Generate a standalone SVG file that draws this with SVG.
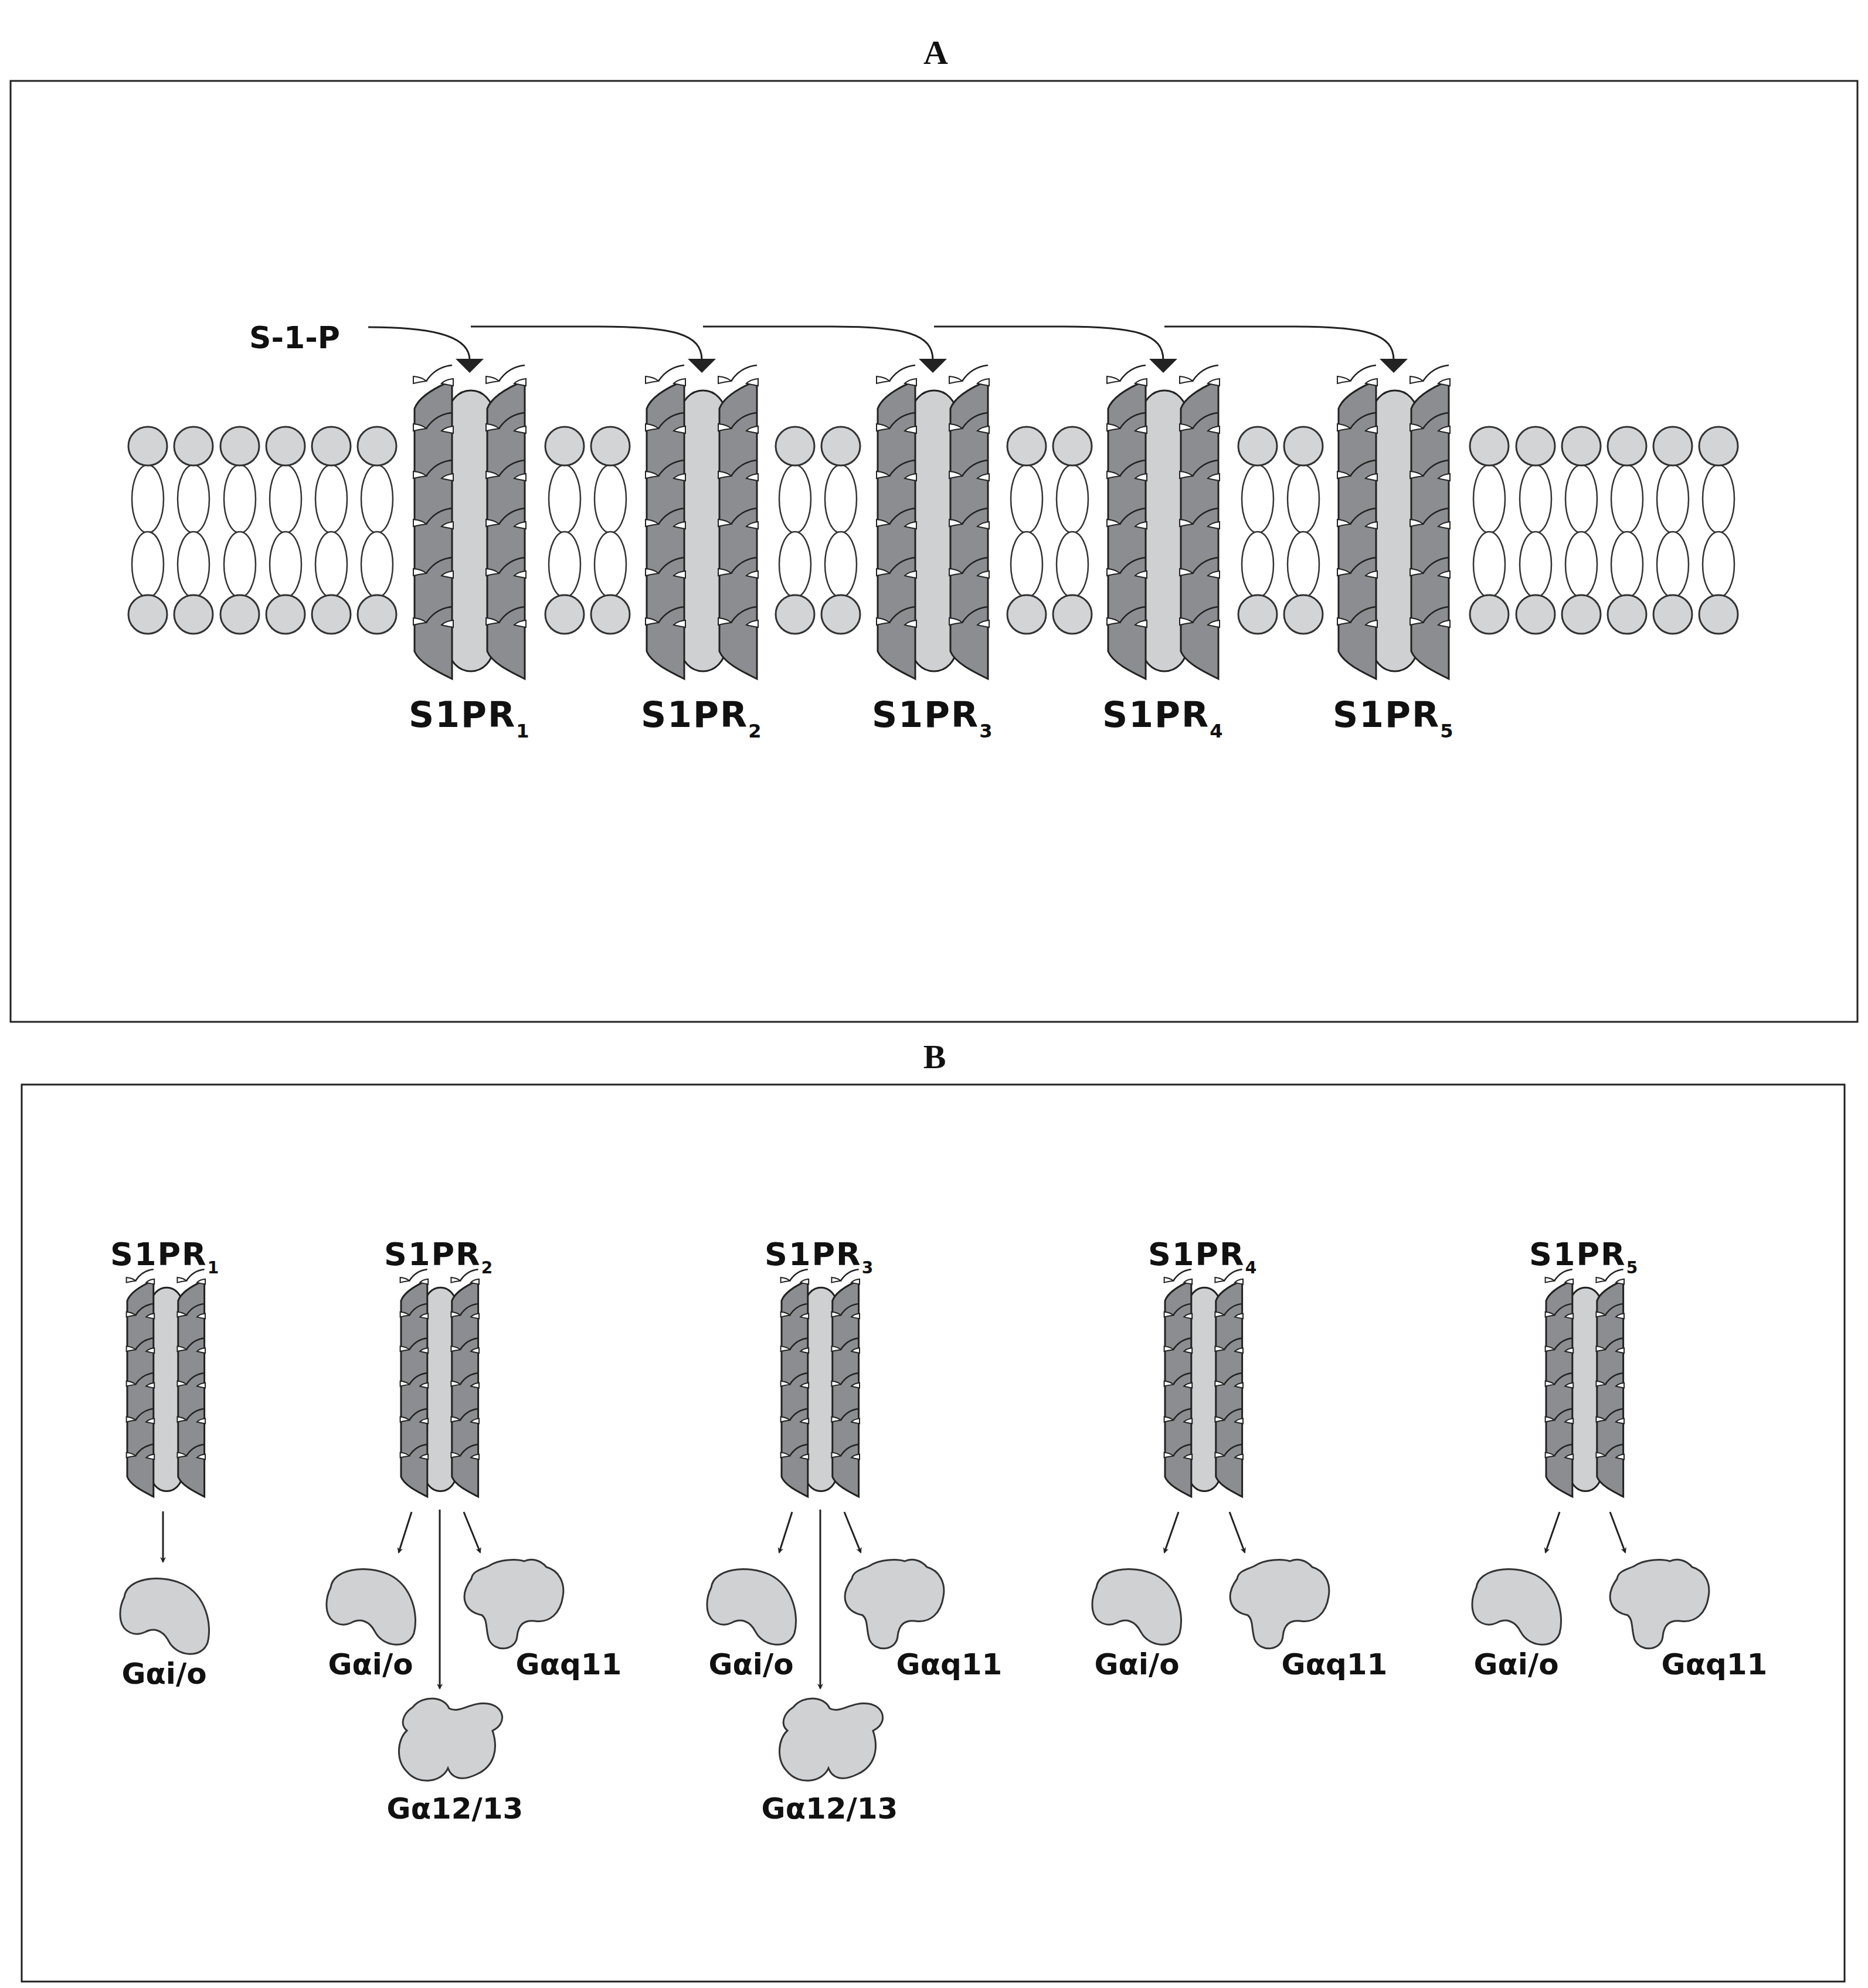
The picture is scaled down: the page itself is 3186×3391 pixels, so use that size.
<svg xmlns="http://www.w3.org/2000/svg" xmlns:xlink="http://www.w3.org/1999/xlink" width="3186" height="3391" viewBox="0 0 3186 3391">
<style>
.box{fill:none;stroke:#222;stroke-width:3}
.ttl{font-family:"Liberation Serif",serif;font-weight:bold;font-size:58px;fill:#111}
.lbl{font-family:"DejaVu Sans",sans-serif;font-weight:bold;fill:#111}
.head{fill:#d3d4d6;stroke:#333;stroke-width:3}
.tail{fill:#fff;stroke:#333;stroke-width:2.5}
.col{fill:#8c8d90;stroke:#222;stroke-width:3;vector-effect:non-scaling-stroke}
.core{fill:#cfd0d2;stroke:#222;stroke-width:3;vector-effect:non-scaling-stroke}
.slit{fill:#fff;stroke:#222;stroke-width:2;vector-effect:non-scaling-stroke}
.seam{fill:none;stroke:#222;stroke-width:2.5;vector-effect:non-scaling-stroke}
.prot{fill:#d0d1d3;stroke:#333;stroke-width:3}
.ln{fill:none;stroke:#222;stroke-width:3}
.ah{fill:#222}
</style>
<defs>
<marker id="arr" markerWidth="10" markerHeight="10" refX="8" refY="5" orient="auto" markerUnits="userSpaceOnUse" viewBox="0 0 10 10">
<path d="M0,0 L10,5 L0,10 L3,5 Z" fill="#222"/>
</marker>
<g id="colshape">
<path class="col" d="M64,0 L64,509 C40,497 8,482 0,462 L0,48 C8,26 40,10 64,0 Z"/>
<g id="notch">
<path class="slit" d="M-2,-7 C8,-6 16,-3 20,1 C12,2 6,3 -2,5 Z"/>
<path class="seam" d="M20,1 C30,-14 44,-24 64,-26"/>
<path class="slit" d="M66,-3 C56,-2 50,1 46,5 C54,7 60,8 66,9 Z"/>
</g>
<use xlink:href="#notch" y="81"/>
<use xlink:href="#notch" y="162"/>
<use xlink:href="#notch" y="244"/>
<use xlink:href="#notch" y="328"/>
<use xlink:href="#notch" y="412"/>
</g>
<g id="rec">
<rect class="core" x="58" y="17" width="76" height="479" rx="38" ry="40"/>
<use xlink:href="#colshape" x="0"/>
<use xlink:href="#colshape" x="124"/>
</g>
<g id="lipid">
<ellipse class="tail" cx="0" cy="851" rx="27" ry="58"/>
<ellipse class="tail" cx="0" cy="963" rx="27" ry="56"/>
<circle class="head" cx="0" cy="761" r="33"/>
<circle class="head" cx="0" cy="1048" r="33"/>
</g>
<path id="gio" class="prot" d="M10,40 C14,8 70,0 110,18 C150,38 160,88 152,118 C142,146 100,142 86,116 C76,96 60,92 45,100 C28,108 8,100 4,80 C1,64 4,52 10,40 Z"/>
<path id="gq" class="prot" d="M22,42 C24,28 40,26 52,20 C70,8 100,8 112,12 C124,6 140,10 150,22 C172,28 182,50 178,72 C174,100 156,118 130,114 C112,112 102,120 100,140 C98,165 62,168 52,146 C46,128 50,112 40,104 C10,98 0,72 22,42 Z"/>
<path id="g12" class="prot" d="M30,22 C48,0 84,4 92,24 C110,34 128,12 158,16 C186,20 192,50 166,62 C176,92 170,122 140,136 C112,150 96,142 90,126 C80,150 40,156 20,132 C0,112 4,76 20,62 C8,52 12,34 30,22 Z"/>
</defs>

<text class="ttl" x="1596" y="109" text-anchor="middle">A</text>
<rect class="box" x="18" y="138" width="3150" height="1605"/>
<text class="ttl" x="1594" y="1822" text-anchor="middle">B</text>
<rect class="box" x="37" y="1850" width="3109" height="1530"/>

<g id="membrane">
<use xlink:href="#lipid" x="252"/><use xlink:href="#lipid" x="330"/><use xlink:href="#lipid" x="409"/><use xlink:href="#lipid" x="487"/><use xlink:href="#lipid" x="565"/><use xlink:href="#lipid" x="643"/>
<use xlink:href="#lipid" x="963"/><use xlink:href="#lipid" x="1041"/>
<use xlink:href="#lipid" x="1356"/><use xlink:href="#lipid" x="1434"/>
<use xlink:href="#lipid" x="1751"/><use xlink:href="#lipid" x="1829"/>
<use xlink:href="#lipid" x="2145"/><use xlink:href="#lipid" x="2223"/>
<use xlink:href="#lipid" x="2540"/><use xlink:href="#lipid" x="2619"/><use xlink:href="#lipid" x="2697"/><use xlink:href="#lipid" x="2775"/><use xlink:href="#lipid" x="2853"/><use xlink:href="#lipid" x="2931"/>
</g>

<g id="A-receptors">
<g id="A-S1PR1"><use xlink:href="#rec" x="707" y="649"/><text class="lbl" font-size="60" x="697" y="1240" letter-spacing="2">S1PR<tspan font-size="32" dy="18">1</tspan></text></g>
<g id="A-S1PR2"><use xlink:href="#rec" x="1103" y="649"/><text class="lbl" font-size="60" x="1093" y="1240" letter-spacing="2">S1PR<tspan font-size="32" dy="18">2</tspan></text></g>
<g id="A-S1PR3"><use xlink:href="#rec" x="1497" y="649"/><text class="lbl" font-size="60" x="1487" y="1240" letter-spacing="2">S1PR<tspan font-size="32" dy="18">3</tspan></text></g>
<g id="A-S1PR4"><use xlink:href="#rec" x="1890" y="649"/><text class="lbl" font-size="60" x="1880" y="1240" letter-spacing="2">S1PR<tspan font-size="32" dy="18">4</tspan></text></g>
<g id="A-S1PR5"><use xlink:href="#rec" x="2283" y="649"/><text class="lbl" font-size="60" x="2273" y="1240" letter-spacing="2">S1PR<tspan font-size="32" dy="18">5</tspan></text></g>
</g>
<g id="S1P"><text class="lbl" font-size="52" x="425" y="594">S-1-P</text></g>

<g id="A-connectors">
<path class="ln" d="M628,558 C720,558 801,568 801,614"/>
<path class="ln" d="M803,557 L1020,557 C1150,557 1197,570 1197,614"/>
<path class="ln" d="M1199,557 L1420,557 C1545,557 1591,570 1591,614"/>
<path class="ln" d="M1593,557 L1815,557 C1938,557 1984,570 1984,614"/>
<path class="ln" d="M1986,557 L2210,557 C2331,557 2377,570 2377,614"/>
<polygon class="ah" points="777,612 825,612 801,636"/>
<polygon class="ah" points="1173,612 1221,612 1197,636"/>
<polygon class="ah" points="1567,612 1615,612 1591,636"/>
<polygon class="ah" points="1960,612 2008,612 1984,636"/>
<polygon class="ah" points="2353,612 2401,612 2377,636"/>
</g>

<g id="B-receptors">
<g id="B-S1PR1"><use xlink:href="#rec" transform="translate(217,2184) scale(0.7,0.725)"/><text class="lbl" font-size="54" x="188" y="2158" letter-spacing="2">S1PR<tspan font-size="28" dy="14">1</tspan></text></g>
<g id="B-S1PR2"><use xlink:href="#rec" transform="translate(684,2184) scale(0.7,0.725)"/><text class="lbl" font-size="54" x="655" y="2158" letter-spacing="2">S1PR<tspan font-size="28" dy="14">2</tspan></text></g>
<g id="B-S1PR3"><use xlink:href="#rec" transform="translate(1333,2184) scale(0.7,0.725)"/><text class="lbl" font-size="54" x="1304" y="2158" letter-spacing="2">S1PR<tspan font-size="28" dy="14">3</tspan></text></g>
<g id="B-S1PR4"><use xlink:href="#rec" transform="translate(1987,2184) scale(0.7,0.725)"/><text class="lbl" font-size="54" x="1958" y="2158" letter-spacing="2">S1PR<tspan font-size="28" dy="14">4</tspan></text></g>
<g id="B-S1PR5"><use xlink:href="#rec" transform="translate(2637,2184) scale(0.7,0.725)"/><text class="lbl" font-size="54" x="2608" y="2158" letter-spacing="2">S1PR<tspan font-size="28" dy="14">5</tspan></text></g>
</g>

<g id="G-proteins">
<g id="B1-gio"><use xlink:href="#gio" x="202" y="2684"/><text class="lbl" font-size="50" x="280" y="2872" text-anchor="middle">Gαi/o</text></g>
<g id="B2-gio"><use xlink:href="#gio" x="554" y="2668"/><text class="lbl" font-size="50" x="632" y="2856" text-anchor="middle">Gαi/o</text></g>
<g id="B2-gq"><use xlink:href="#gq" x="782" y="2651"/><text class="lbl" font-size="50" x="970" y="2856" text-anchor="middle">Gαq11</text></g>
<g id="B2-g12"><use xlink:href="#g12" x="674" y="2890"/><text class="lbl" font-size="50" x="776" y="3102" text-anchor="middle">Gα12/13</text></g>
<g id="B3-gio"><use xlink:href="#gio" x="1203" y="2668"/><text class="lbl" font-size="50" x="1281" y="2856" text-anchor="middle">Gαi/o</text></g>
<g id="B3-gq"><use xlink:href="#gq" x="1431" y="2651"/><text class="lbl" font-size="50" x="1619" y="2856" text-anchor="middle">Gαq11</text></g>
<g id="B3-g12"><use xlink:href="#g12" x="1323" y="2890"/><text class="lbl" font-size="50" x="1415" y="3102" text-anchor="middle">Gα12/13</text></g>
<g id="B4-gio"><use xlink:href="#gio" x="1860" y="2668"/><text class="lbl" font-size="50" x="1939" y="2856" text-anchor="middle">Gαi/o</text></g>
<g id="B4-gq"><use xlink:href="#gq" x="2088" y="2651"/><text class="lbl" font-size="50" x="2276" y="2856" text-anchor="middle">Gαq11</text></g>
<g id="B5-gio"><use xlink:href="#gio" x="2508" y="2668"/><text class="lbl" font-size="50" x="2586" y="2856" text-anchor="middle">Gαi/o</text></g>
<g id="B5-gq"><use xlink:href="#gq" x="2736" y="2651"/><text class="lbl" font-size="50" x="2924" y="2856" text-anchor="middle">Gαq11</text></g>
</g>

<g id="B-connectors">
<path class="ln" marker-end="url(#arr)" d="M278,2578 L278,2664"/>
<path class="ln" marker-end="url(#arr)" d="M702,2579 L680,2648"/>
<path class="ln" marker-end="url(#arr)" d="M750,2575 L750,2880"/>
<path class="ln" marker-end="url(#arr)" d="M791,2579 L819,2648"/>
<path class="ln" marker-end="url(#arr)" d="M1351,2579 L1329,2648"/>
<path class="ln" marker-end="url(#arr)" d="M1399,2575 L1399,2880"/>
<path class="ln" marker-end="url(#arr)" d="M1440,2579 L1468,2648"/>
<path class="ln" marker-end="url(#arr)" d="M2010,2579 L1986,2648"/>
<path class="ln" marker-end="url(#arr)" d="M2097,2579 L2123,2648"/>
<path class="ln" marker-end="url(#arr)" d="M2660,2579 L2636,2648"/>
<path class="ln" marker-end="url(#arr)" d="M2746,2579 L2772,2648"/>
</g>
</svg>
